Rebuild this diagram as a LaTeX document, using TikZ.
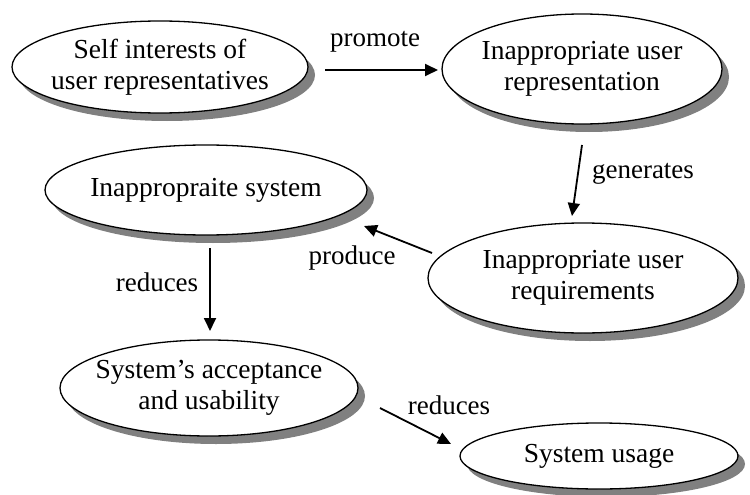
\documentclass[tikz,border=0pt]{standalone}
\usepackage{fontspec}
\setmainfont{Liberation Serif}
\usetikzlibrary{shapes.geometric,arrows.meta,shadows}
\definecolor{shadowgray}{RGB}{128,128,128}
\begin{document}
\begin{tikzpicture}[x=1pt,y=-1pt,
  ell/.style={ellipse, draw=black, line width=1.3pt, fill=white, inner sep=0pt,
    drop shadow={shadow xshift=7pt, shadow yshift=-8pt, fill=shadowgray, opacity=1}},
  txt/.style={align=center, inner sep=0pt, font=\fontsize{27.5}{31}\selectfont},
  lbl/.style={font=\fontsize{27}{30}\selectfont, inner sep=0pt},
  arr/.style={line width=1.8pt, -{Triangle[length=13pt,width=12pt]}}]
\useasboundingbox (0,0) rectangle (750,495);
\node[ell, minimum width=296pt, minimum height=92pt] (e1) at (160,67) {};
\node[ell, minimum width=280pt, minimum height=110pt] (e2) at (582,69) {};
\node[ell, minimum width=322pt, minimum height=90pt] (e3) at (206,190) {};
\node[ell, minimum width=310pt, minimum height=110pt] (e4) at (583,278) {};
\node[ell, minimum width=298pt, minimum height=96pt] (e5) at (209,388) {};
\node[ell, minimum width=278pt, minimum height=66pt] (e6) at (599,456) {};
\node[txt] (t1) at (e1) {Self interests of\\user representatives};
\node[txt] (t2) at (e2) {Inappropriate user\\representation};
\node[txt] (t3) at (e3) {Inappropraite system};
\node[txt] (t4) at (e4) {Inappropriate user\\requirements};
\node[txt] (t5) at (e5) {System's acceptance\\and usability};
\node[txt] (t6) at (e6) {System usage};
\coordinate (p1) at (325,70); \coordinate (p2) at (438,70);
\coordinate (g1) at (582,145); \coordinate (g2) at (572,216);
\coordinate (r1) at (432,253); \coordinate (r2) at (364,226);
\coordinate (d1) at (210,248); \coordinate (d2) at (210,331);
\coordinate (s1) at (380,408); \coordinate (s2) at (451,444);
\draw[arr] (p1) -- (p2);
\draw[arr] (g1) -- (g2);
\draw[arr] (r1) -- (r2);
\draw[arr] (d1) -- (d2);
\draw[arr] (s1) -- (s2);
\node[lbl] (lp) at (375,42) {promote};
\node[lbl] (lg) at (643,174) {generates};
\node[lbl] (lr) at (352,258) {produce};
\node[lbl] (ld) at (157,282) {reduces};
\node[lbl] (ls) at (449,405) {reduces};
\end{tikzpicture}
\end{document}
